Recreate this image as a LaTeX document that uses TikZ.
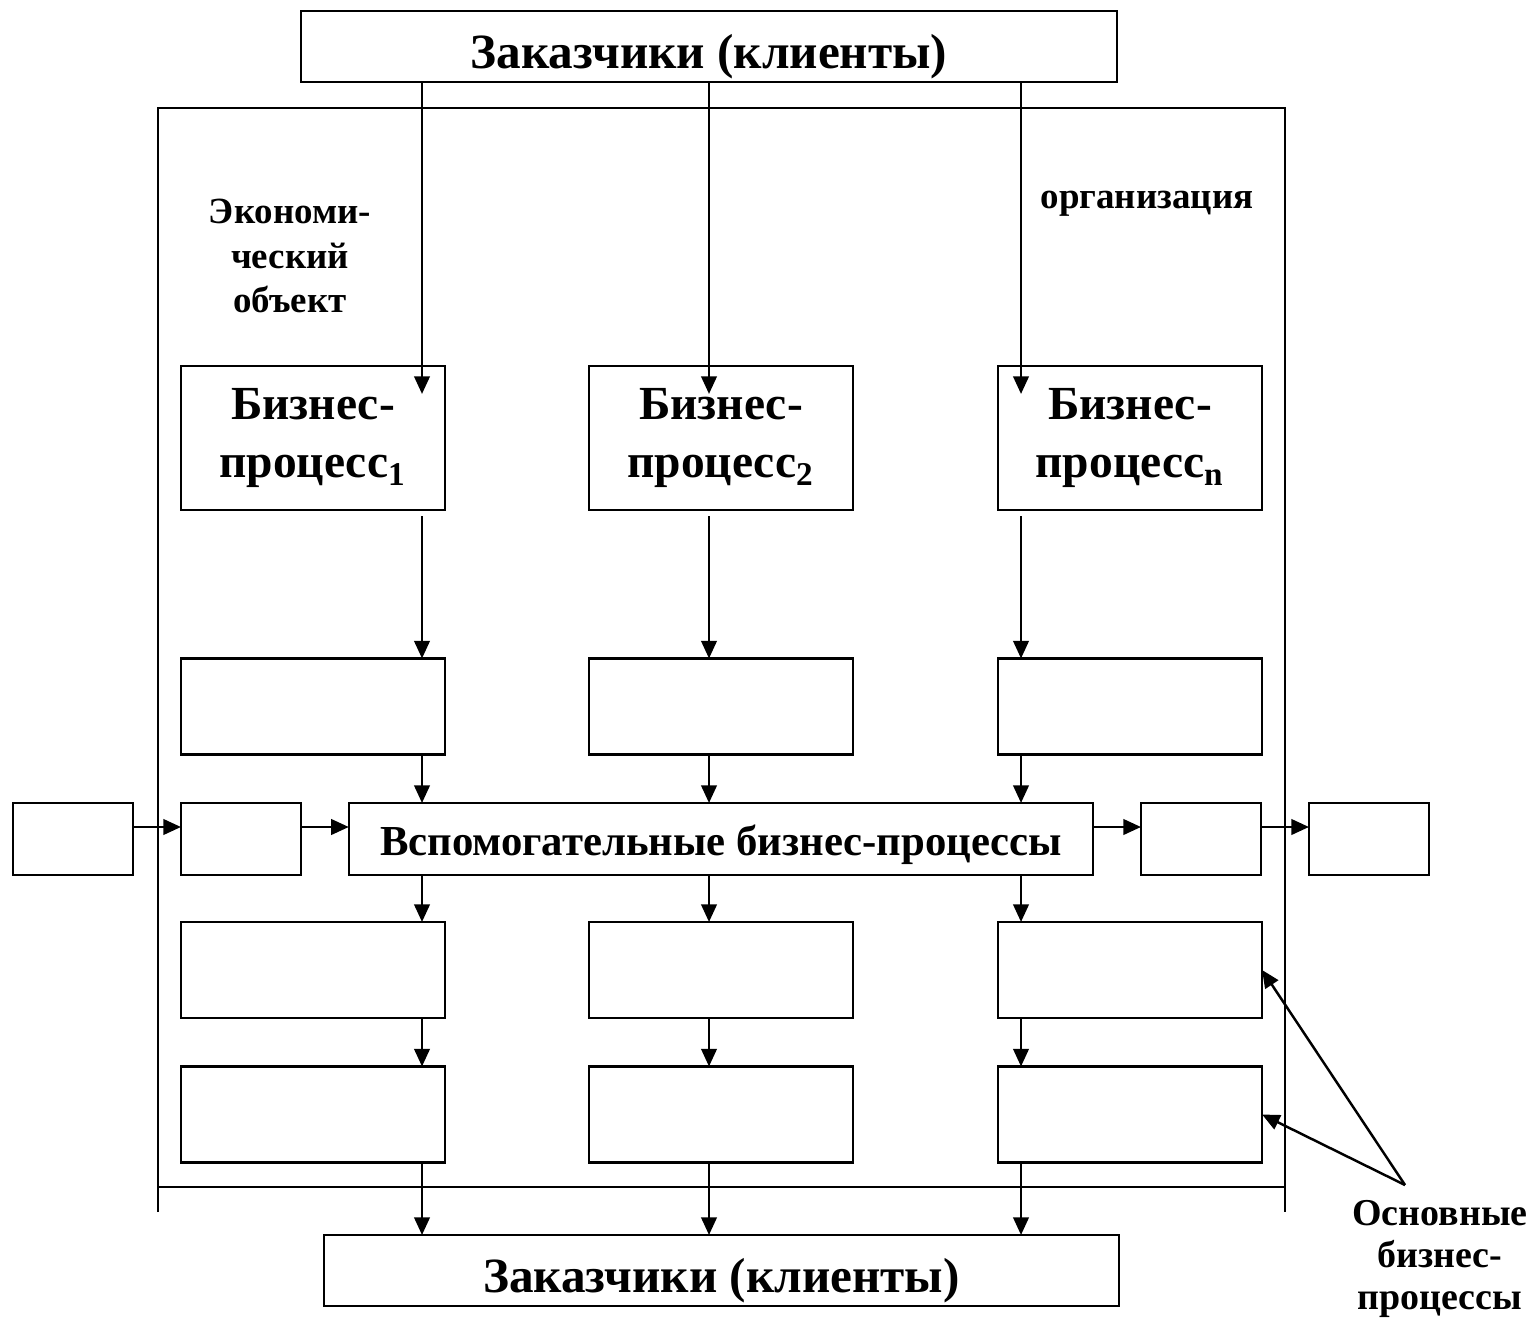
\documentclass[tikz,border=0pt]{standalone}
\usepackage{fontspec}
\setmainfont{Liberation Serif}
\usetikzlibrary{arrows.meta, positioning, calc}

\begin{document}
\begin{tikzpicture}[
    x=0.01cm, y=-0.01cm,
    box/.style={draw, line width=0.7pt, minimum width=2.64cm, minimum height=0.96cm, inner sep=0pt, outer sep=0pt, align=center},
    head/.style={box, minimum width=8.16cm, minimum height=0.71cm, text height=0.45cm, text depth=0.02cm, font=\bfseries\fontsize{14}{17}\selectfont},
    bp/.style={box, minimum height=1.44cm, font=\bfseries\fontsize{13.5}{16.5}\selectfont},
    smallbox/.style={box, minimum width=1.2cm, minimum height=0.72cm},
    note/.style={align=center, inner sep=0pt, font=\bfseries\fontsize{10.5}{12.6}\selectfont},
    arrow/.style={-{Triangle[length=5pt, width=4.4pt]}, line width=0.7pt}
]
    \useasboundingbox (0,0) rectangle (1540,1322);

    % customers
    \node[head] (top) at (709,46.5) {Заказчики (клиенты)};
    \node[head, minimum width=7.95cm] (bottom) at (721.5,1270.5) {Заказчики (клиенты)};

    % frame of the organisation
    \draw[line width=0.7pt] (158,1212) -- (158,108) -- (1285,108) -- (1285,1212);
    \draw[line width=0.7pt] (158,1187) -- (1285,1187);
    \node[note] (econ) at (290,256) {Экономи-\\ческий\\объект};
    \node[note] (org) at (1147,204) {организация};

    % business processes
    \node[bp] (bp1) at (313,438) {Бизнес-\\процесс\textsubscript{1}};
    \node[bp] (bp2) at (721,438) {Бизнес-\\процесс\textsubscript{2}};
    \node[bp] (bpn) at (1130,438) {Бизнес-\\процесс\textsubscript{n}};

    \node[box] (r2a) at (313,706.5) {};
    \node[box] (r2b) at (721,706.5) {};
    \node[box] (r2n) at (1130,706.5) {};

    \node[box, minimum width=7.44cm, minimum height=0.72cm, text height=0.34cm, text depth=0.02cm, font=\bfseries\fontsize{12.15}{15}\selectfont] (aux) at (721,839) {Вспомогательные бизнес-процессы};
    \node[smallbox] (in1) at (73,839) {};
    \node[smallbox] (in2) at (241,839) {};
    \node[smallbox] (out1) at (1201,839) {};
    \node[smallbox] (out2) at (1369,839) {};

    \node[box] (r3a) at (313,970) {};
    \node[box] (r3b) at (721,970) {};
    \node[box] (r3n) at (1130,970) {};

    \node[box] (r4a) at (313,1114.5) {};
    \node[box] (r4b) at (721,1114.5) {};
    \node[box] (r4n) at (1130,1114.5) {};

    \node[note, font=\bfseries\fontsize{10.8}{11.9}\selectfont] (main) at (1440,1259) {Основные\\бизнес-\\процессы};

    % columns of the arrows
    \coordinate (c1) at (422,0);
    \coordinate (c2) at (709,0);
    \coordinate (cn) at (1021,0);
    \coordinate (row) at (0,827);
    \coordinate (tip) at (1405,1185);

    \draw[arrow] (top.south -| c1) -- ($(bp1.north -| c1)+(0,28)$);
    \draw[arrow] (top.south -| c2) -- ($(bp2.north -| c2)+(0,28)$);
    \draw[arrow] (top.south -| cn) -- ($(bpn.north -| cn)+(0,28)$);

    \draw[arrow] ($(bp1.south -| c1)+(0,6)$) -- (r2a.north -| c1);
    \draw[arrow] ($(bp2.south -| c2)+(0,6)$) -- (r2b.north -| c2);
    \draw[arrow] ($(bpn.south -| cn)+(0,6)$) -- (r2n.north -| cn);

    \draw[arrow] (r2a.south -| c1) -- (aux.north -| c1);
    \draw[arrow] (r2b.south -| c2) -- (aux.north -| c2);
    \draw[arrow] (r2n.south -| cn) -- (aux.north -| cn);

    \draw[arrow] (in1.east |- row) -- (in2.west |- row);
    \draw[arrow] (in2.east |- row) -- (aux.west |- row);
    \draw[arrow] (aux.east |- row) -- (out1.west |- row);
    \draw[arrow] (out1.east |- row) -- (out2.west |- row);

    \draw[arrow] (aux.south -| c1) -- (r3a.north -| c1);
    \draw[arrow] (aux.south -| c2) -- (r3b.north -| c2);
    \draw[arrow] (aux.south -| cn) -- (r3n.north -| cn);

    \draw[arrow] (r3a.south -| c1) -- (r4a.north -| c1);
    \draw[arrow] (r3b.south -| c2) -- (r4b.north -| c2);
    \draw[arrow] (r3n.south -| cn) -- (r4n.north -| cn);

    \draw[arrow] (r4a.south -| c1) -- (bottom.north -| c1);
    \draw[arrow] (r4b.south -| c2) -- (bottom.north -| c2);
    \draw[arrow] (r4n.south -| cn) -- (bottom.north -| cn);

    \draw[arrow] (tip) -- (r3n.east);
    \draw[arrow] (tip) -- (r4n.east);
\end{tikzpicture}
\end{document}
